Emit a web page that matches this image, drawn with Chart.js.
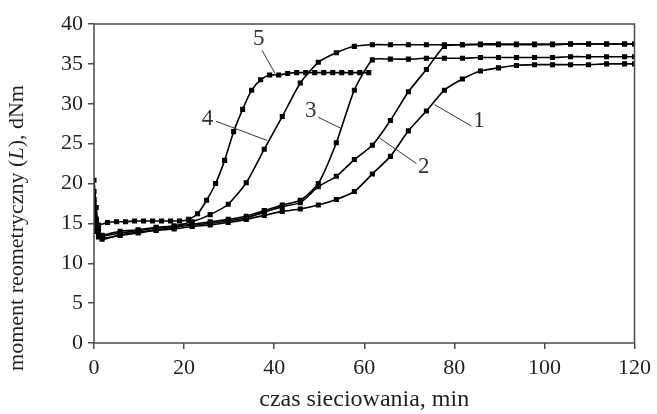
<!DOCTYPE html>
<html>
<head>
<meta charset="utf-8">
<script src="https://cdn.jsdelivr.net/npm/chart.js@4.4.1/dist/chart.umd.min.js"></script>
<style>
  body { margin: 0; background: #fff; }
  canvas { display: block; }
</style>
</head>
<body>
<canvas id="chart" width="657" height="414"></canvas>
<script>
// time grid (min) used by curves 1-4
const t14 = [0, 0.5, 1, 1.8, 5.8, 9.8, 13.8, 17.8, 21.8, 25.8, 29.8, 33.8, 37.8, 41.8, 45.8, 49.8,
  53.8, 57.8, 61.8, 65.8, 69.8, 73.8, 77.8, 81.8, 85.8, 89.8, 93.8, 97.8, 101.8, 105.8, 109.8,
  113.8, 117.8, 120];

const curve1 = [20.4, 17.0, 14.5, 13.2, 13.5, 13.8, 14.1, 14.3, 14.6, 14.8, 15.1, 15.5, 16.0, 16.5,
  16.8, 17.3, 18.0, 19.0, 21.2, 23.4, 26.6, 29.1, 31.7, 33.1, 34.1, 34.5, 34.8, 34.9, 34.9, 34.9,
  34.9, 35.0, 35.0, 35.0];
const curve2 = [18.0, 15.5, 14.0, 13.0, 13.6, 13.9, 14.2, 14.5, 14.8, 15.0, 15.3, 15.7, 16.4, 17.1,
  17.6, 19.6, 20.9, 23.0, 24.8, 27.9, 31.5, 34.3, 37.2, 37.4, 37.4, 37.4, 37.4, 37.4, 37.4, 37.5,
  37.5, 37.5, 37.5, 37.5];
const curve3 = [16.5, 14.5, 13.5, 13.4, 13.8, 14.1, 14.4, 14.6, 14.9, 15.2, 15.5, 15.9, 16.6, 17.3,
  17.9, 20.0, 25.1, 31.7, 35.5, 35.6, 35.6, 35.7, 35.7, 35.7, 35.8, 35.8, 35.8, 35.8, 35.8, 35.9,
  35.9, 35.9, 35.9, 35.9];
const curve4 = [15.5, 14.0, 13.3, 13.5, 14.0, 14.2, 14.5, 14.7, 15.2, 16.1, 17.4, 20.1, 24.3, 28.4,
  32.6, 35.2, 36.4, 37.2, 37.4, 37.4, 37.4, 37.4, 37.4, 37.4, 37.5, 37.5, 37.5, 37.5, 37.5, 37.5,
  37.5, 37.5, 37.5, 37.5];

// curve 5 was sampled every 2 min and stops at ~61 min
const t5 = [0, 0.5, 1, 3, 5, 7, 9, 11, 13, 15, 17, 19, 21, 23, 25, 27, 29, 31, 33, 35, 37, 39, 41,
  43, 45, 47, 49, 51, 53, 55, 57, 59, 61];
const curve5 = [19.0, 15.5, 14.8, 15.1, 15.2, 15.2, 15.3, 15.3, 15.3, 15.3, 15.3, 15.3, 15.5, 16.2,
  17.9, 20.0, 22.9, 26.5, 29.3, 31.7, 33.0, 33.6, 33.6, 33.8, 33.9, 33.9, 33.9, 33.9, 33.9, 33.9,
  33.9, 33.9, 33.9];

const xTicks = [0, 20, 40, 60, 80, 100, 120];
const yTicks = [0, 5, 10, 15, 20, 25, 30, 35, 40];

// curve numbers with leader lines (data units)
const labelText = ['1', '2', '3', '4', '5'];
const labelPos = [[85.5, 27.9], [73.2, 22.1], [48.1, 29.1], [25.2, 28.1], [36.6, 38.1]];
const leaderFrom = [[83.8, 27.2], [71.6, 22.5], [49.8, 28.3], [27.1, 27.8], [37.3, 36.7]];
const leaderTo = [[75.6, 29.9], [63.4, 25.7], [54.9, 26.9], [38.4, 25.4], [40.2, 33.8]];

const serif = "'Liberation Serif', 'Times New Roman', serif";
const ink = '#231f20';

const toPoints = (xs, ys) => xs.map((x, i) => ({ x: x, y: ys[i] }));

const series = [
  toPoints(t14, curve1),
  toPoints(t14, curve2),
  toPoints(t14, curve3),
  toPoints(t14, curve4),
  toPoints(t5, curve5),
];

// frame, curve labels and the y title (with italic L)
const extras = {
  id: 'extras',
  afterDraw(chart) {
    const ctx = chart.ctx;
    const area = chart.chartArea;
    const xs = chart.scales.x;
    const ys = chart.scales.y;
    ctx.save();
    ctx.strokeStyle = '#4a4a4a';
    ctx.lineWidth = 1.5;
    ctx.strokeRect(area.left, area.top, area.right - area.left, area.bottom - area.top);

    ctx.strokeStyle = '#333';
    ctx.lineWidth = 1;
    for (let i = 0; i < labelText.length; i++) {
      ctx.beginPath();
      ctx.moveTo(xs.getPixelForValue(leaderFrom[i][0]), ys.getPixelForValue(leaderFrom[i][1]));
      ctx.lineTo(xs.getPixelForValue(leaderTo[i][0]), ys.getPixelForValue(leaderTo[i][1]));
      ctx.stroke();
    }
    ctx.fillStyle = '#333';
    ctx.font = '23px ' + serif;
    ctx.textAlign = 'center';
    ctx.textBaseline = 'middle';
    for (let i = 0; i < labelText.length; i++) {
      ctx.fillText(labelText[i], xs.getPixelForValue(labelPos[i][0]), ys.getPixelForValue(labelPos[i][1]));
    }

    // y axis title
    const parts = [
      ['moment reometryczny (', 'normal'],
      ['L', 'italic'],
      ['), dNm', 'normal'],
    ];
    let total = 0;
    parts.forEach(p => {
      ctx.font = p[1] + ' 22px ' + serif;
      total += ctx.measureText(p[0]).width;
    });
    ctx.translate(17, 228);
    ctx.rotate(-Math.PI / 2);
    ctx.textAlign = 'left';
    ctx.fillStyle = ink;
    let pos = -total / 2;
    parts.forEach(p => {
      ctx.font = p[1] + ' 22px ' + serif;
      ctx.fillText(p[0], pos, 0);
      pos += ctx.measureText(p[0]).width;
    });
    ctx.restore();
  }
};

new Chart(document.getElementById('chart'), {
  type: 'scatter',
  data: {
    datasets: series.map((pts, i) => ({
      label: String(i + 1),
      data: pts,
      showLine: true,
      borderColor: '#000',
      backgroundColor: '#000',
      borderWidth: 1.6,
      pointStyle: 'rect',
      pointRadius: 3.6,
      pointBorderWidth: 0,
      tension: 0.2,
    })),
  },
  options: {
    responsive: false,
    animation: false,
    devicePixelRatio: 1,
    layout: { padding: { top: 24, right: 20, left: 0, bottom: 0 } },
    plugins: {
      legend: { display: false },
      tooltip: { enabled: false },
    },
    scales: {
      x: {
        type: 'linear',
        min: 0,
        max: 120,
        afterBuildTicks: s => { s.ticks = xTicks.map(v => ({ value: v })); },
        afterFit: s => { s.height = 71; },
        grid: { drawOnChartArea: false, drawTicks: true, tickLength: 6, color: '#4a4a4a', lineWidth: 1.5 },
        border: { display: false },
        ticks: { color: ink, font: { family: serif, size: 22 }, padding: 6, maxRotation: 0 },
        title: {
          display: true,
          text: 'czas sieciowania, min',
          color: ink,
          font: { family: serif, size: 24 },
          padding: { top: 0, bottom: 0 },
        },
      },
      y: {
        type: 'linear',
        min: 0,
        max: 40,
        afterBuildTicks: s => { s.ticks = yTicks.map(v => ({ value: v })); },
        afterFit: s => { s.width = 94; },
        grid: { drawOnChartArea: false, drawTicks: true, tickLength: 6, color: '#4a4a4a', lineWidth: 1.5 },
        border: { display: false },
        ticks: { color: ink, font: { family: serif, size: 22 }, padding: 5 },
      },
    },
  },
  plugins: [extras],
});
</script>
</body>
</html>
